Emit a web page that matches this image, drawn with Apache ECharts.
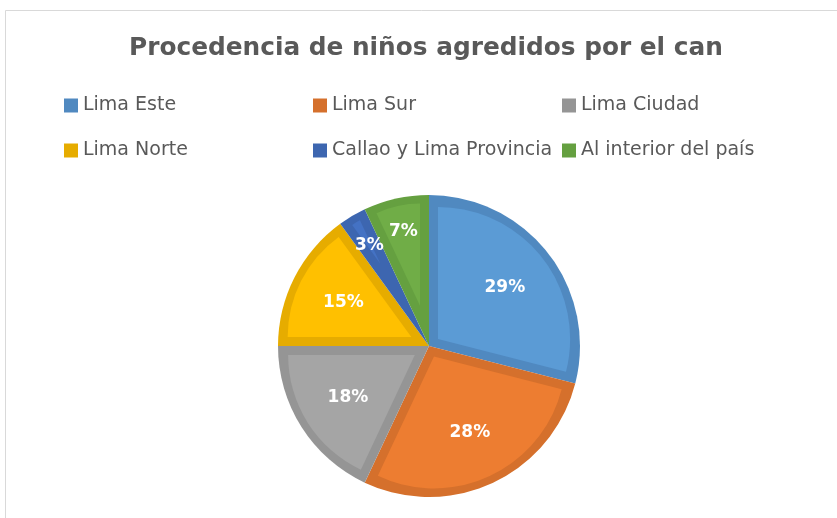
<!DOCTYPE html>
<html>
<head>
<meta charset="utf-8">
<script src="https://cdn.jsdelivr.net/npm/echarts@6/dist/echarts.min.js"></script>
<style>html,body{margin:0;padding:0;background:#fff}#c{width:837px;height:518px}</style>
</head>
<body>
<div id="c"></div>
<script>
const titleText = 'Procedencia de niños agredidos por el can';
const categories = ['Lima Este', 'Lima Sur', 'Lima Ciudad', 'Lima Norte', 'Callao y Lima Provincia', 'Al interior del país'];
const values = [29, 28, 18, 15, 3, 7];
const fillColors = ['#5B9BD5', '#ED7D31', '#A5A5A5', '#FFC000', '#4472C4', '#70AD47'];
const edgeColors = ['#5089C0', '#D5702C', '#959595', '#E6AC00', '#3D66B0', '#65A040'];

const legendLeft = [64, 313, 562];
const legendTop = [96, 141];

const chart = echarts.init(document.getElementById('c'), null, {renderer: 'canvas'});
const center = [429, 346];
const R = 151;
const frame = 9;

const legends = categories.map((name, i) => ({
  data: [name],
  left: legendLeft[i % 3],
  top: legendTop[Math.floor(i / 3)],
  padding: 0,
  icon: 'rect',
  itemWidth: 14,
  itemHeight: 14,
  selectedMode: false,
  textStyle: {fontFamily: 'DejaVu Sans', fontSize: 19, color: '#595959'}
}));

const baseData = categories.map((name, i) => ({name, value: values[i]}));

const common = {
  type: 'pie',
  silent: true,
  legendHoverLink: false,
  labelLine: {show: false},
  emphasis: {disabled: true}
};

// dark frame layer (full pie)
const series = [{
  ...common,
  center: center,
  radius: [0, R],
  label: {show: false},
  data: baseData.map((d, i) => ({...d, itemStyle: {color: edgeColors[i]}}))
}];

// lighter inner fill: each slice drawn by its own pie series whose apex is
// pushed along the slice bisector so the dark frame keeps a constant width
const total = values.reduce((a, b) => a + b, 0);
let cum = 0;
values.forEach((v, i) => {
  const theta = 2 * Math.PI * v / total;
  const mid = 2 * Math.PI * (cum + v / 2) / total;
  cum += v;
  const shift = frame / Math.sin(theta / 2);
  const rad = R - frame - shift + 1.5;
  if (rad <= 1) return;
  series.push({
    ...common,
    center: [center[0] + shift * Math.sin(mid), center[1] - shift * Math.cos(mid)],
    radius: [0, rad],
    label: {show: false},
    data: baseData.map((d, j) => ({...d, itemStyle: {color: j === i ? fillColors[j] : 'rgba(0,0,0,0)'}}))
  });
});

const labelStyle = {
  show: true, position: 'inside', formatter: '{c}%',
  fontFamily: 'DejaVu Sans', fontWeight: 'bold', fontSize: 17, color: '#ffffff'
};
series.push({
  ...common,
  center: center,
  radius: [40, 146],
  itemStyle: {color: 'rgba(0,0,0,0)'},
  label: labelStyle,
  data: baseData.map(d => ({...d, label: {show: d.value >= 10}}))
});
series.push({
  ...common,
  center: center,
  radius: [78, 150],
  itemStyle: {color: 'rgba(0,0,0,0)'},
  label: labelStyle,
  data: baseData.map(d => ({...d, label: {show: d.value < 10}}))
});

chart.setOption({
  animation: false,
  backgroundColor: '#ffffff',
  title: {
    text: titleText,
    left: 124,
    top: 31,
    textStyle: {fontFamily: 'DejaVu Sans', fontWeight: 'bold', fontSize: 24.8, color: '#595959'}
  },
  legend: legends,
  graphic: [{
    type: 'polyline',
    silent: true,
    shape: {points: [[5.5, 518], [5.5, 10.5], [837, 10.5]]},
    style: {stroke: '#d9d9d9', lineWidth: 1, fill: null}
  }],
  series: series
});
</script>
</body>
</html>
